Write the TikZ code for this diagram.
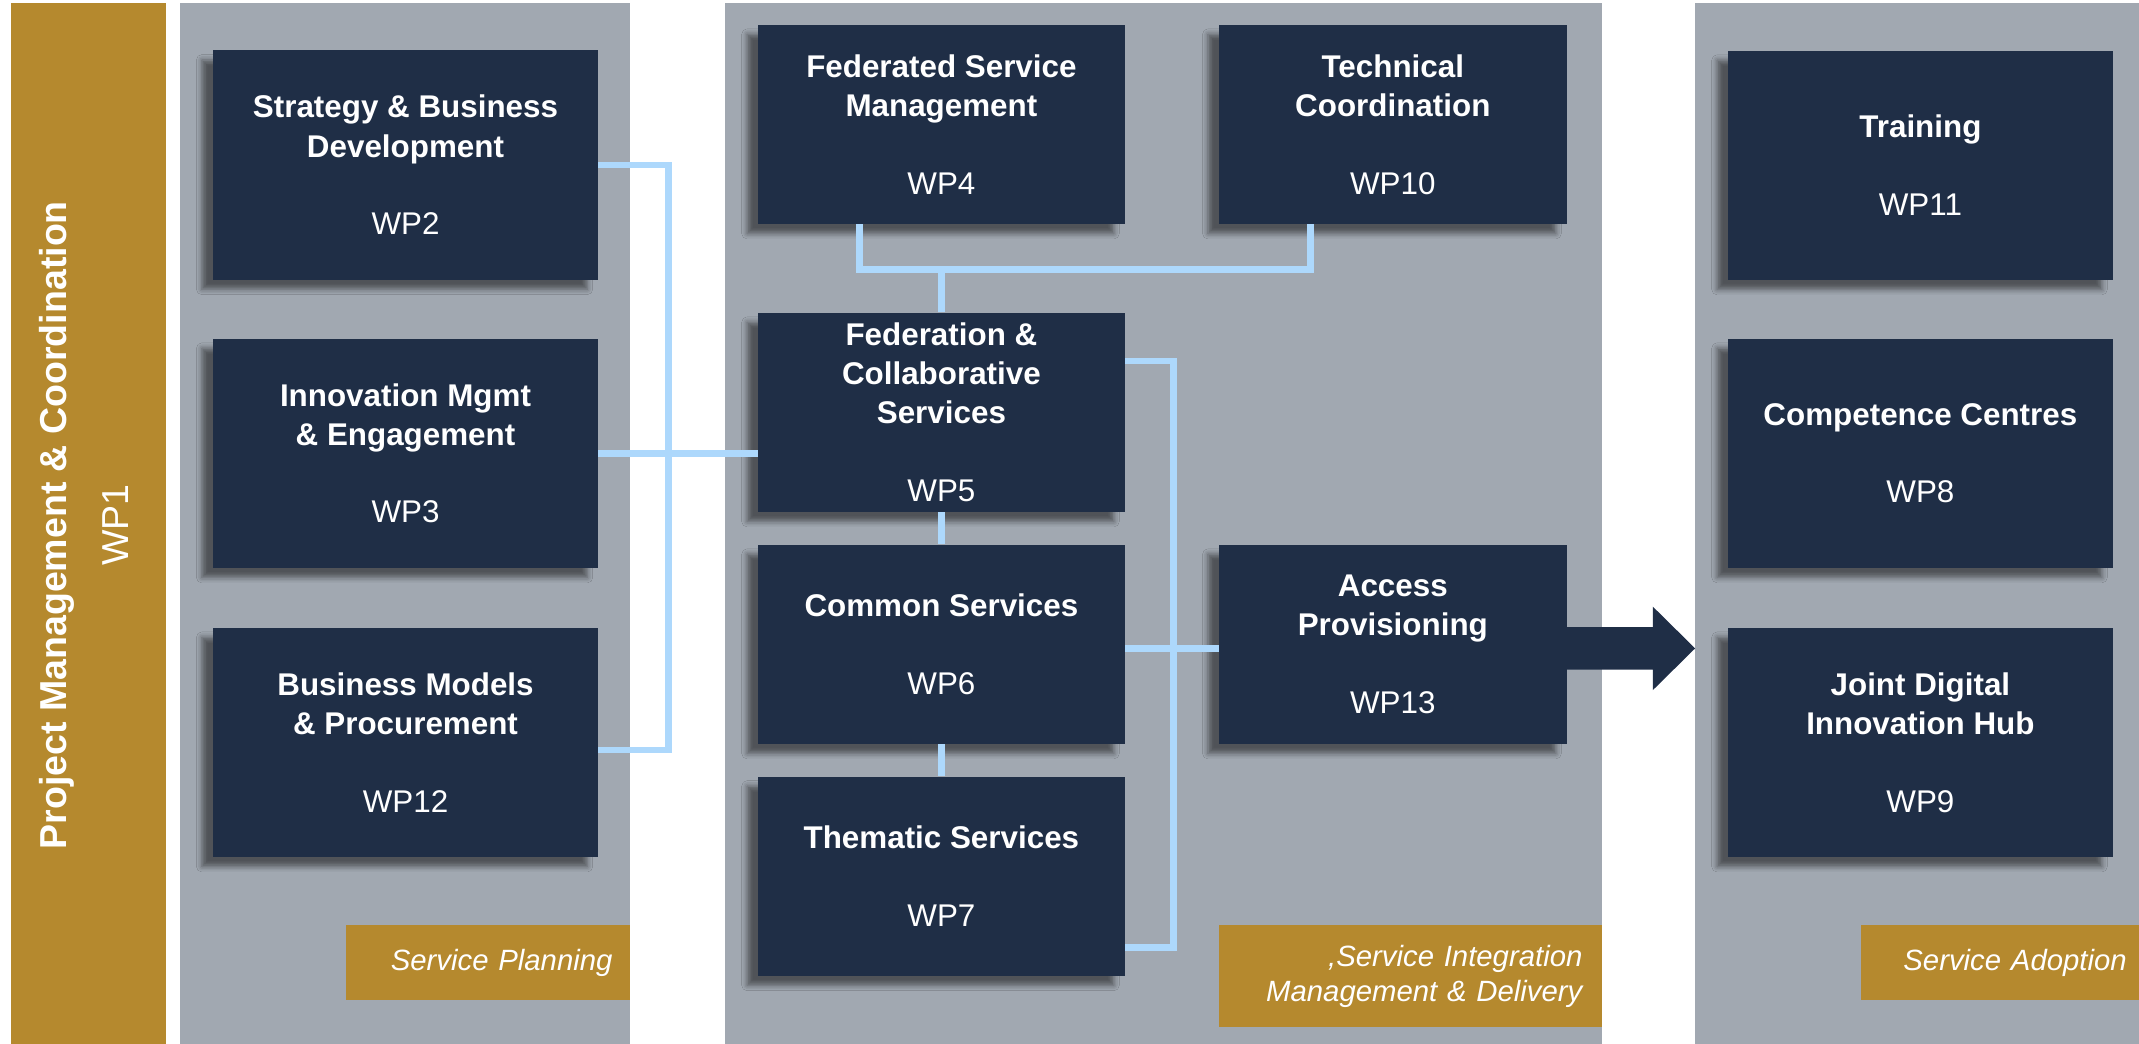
\documentclass[tikz,border=0pt]{standalone}
\usepackage{fontspec}
\setmainfont{Liberation Sans}
\usetikzlibrary{calc,shadows.blur}
\definecolor{panelgray}{RGB}{161,168,177}
\definecolor{boxblue}{RGB}{31,46,70}
\definecolor{goldc}{RGB}{181,137,46}
\definecolor{linkblue}{RGB}{173,216,252}
\tikzset{
  wpbox/.style={fill=boxblue, text=white, align=center, inner sep=0pt,
    font=\fontsize{23}{28.7}\selectfont\bfseries,
    blur shadow={shadow xshift=-8pt, shadow yshift=-7pt, shadow blur radius=4pt, shadow opacity=50}},
  colL/.style={minimum width=282.5pt, minimum height=168pt},
  colR/.style={minimum width=282pt, minimum height=168pt},
  colM/.style={minimum width=268.8pt, minimum height=146pt},
  colN/.style={minimum width=255pt, minimum height=146pt},
  tagbox/.style={fill=goldc, text=white, align=right, inner ysep=0pt,
    font=\fontsize{21.5}{25.5}\selectfont\itshape},
  conn/.style={draw=linkblue, line width=5pt, line join=miter}
}
\begin{document}
\begin{tikzpicture}[x=1pt,y=-1pt]
\useasboundingbox (0,0) rectangle (1568,765);
\fill[white] (0,0) rectangle (1568,765);
% panels
\fill[goldc] (8,2) rectangle (122,765);
\fill[panelgray] (132,2) rectangle (462,765);
\fill[panelgray] (531.5,2) rectangle (1174,765);
\fill[panelgray] (1242.6,2) rectangle (1568,765);
% WP1 title
\node[rotate=90, align=center, text=white, inner sep=0pt,
  font=\fontsize{27.5}{45}\selectfont] (wp1) at (61.4,385)
  {\bfseries Project Management \& Coordination\\\mdseries WP1};
% section tags
\node[tagbox, minimum width=208.4pt, minimum height=55pt, inner xsep=13pt, text width=182.4pt] (sp) at (357.8,705.5) {Service Planning};
\node[tagbox, minimum width=280.5pt, minimum height=75pt, inner xsep=14pt, text width=252.5pt] (si) at (1033.75,715.5) {,Service Integration\\Management \& Delivery};
\node[tagbox, minimum width=204pt, minimum height=55pt, inner xsep=9pt, text width=186pt] (sa) at (1466,705.5) {Service Adoption};
% boxes
\node[wpbox, colL] (wp2) at (297.25,121) {Strategy \& Business\\Development\\[28.3pt]\mdseries WP2};
\node[wpbox, colL] (wp3) at (297.25,332.3) {Innovation Mgmt\\\& Engagement\\[28.3pt]\mdseries WP3};
\node[wpbox, colL] (wp12) at (297.25,544.2) {Business Models\\\& Procurement\\[28.3pt]\mdseries WP12};
\node[wpbox, colM] (wp4) at (690.1,91.15) {Federated Service\\Management\\[28.3pt]\mdseries WP4};
\node[wpbox, colN] (wp10) at (1021,91.15) {Technical\\Coordination\\[28.3pt]\mdseries WP10};
\node[wpbox, colM] (wp5) at (690.1,302.25) {Federation \&\\Collaborative\\Services\\[28.3pt]\mdseries WP5};
\node[wpbox, colM] (wp6) at (690.1,472.3) {Common Services\\[28.3pt]\mdseries WP6};
\node[wpbox, colM] (wp7) at (690.1,642.25) {Thematic Services\\[28.3pt]\mdseries WP7};
\node[wpbox, colN] (wp13) at (1021,472.3) {Access\\Provisioning\\[28.3pt]\mdseries WP13};
\node[wpbox, colR] (wp11) at (1407.75,121.15) {Training\\[28.3pt]\mdseries WP11};
\node[wpbox, colR] (wp8) at (1407.75,332.25) {Competence Centres\\[28.3pt]\mdseries WP8};
\node[wpbox, colR] (wp9) at (1407.75,544.2) {Joint Digital\\Innovation Hub\\[28.3pt]\mdseries WP9};
% connectors
\coordinate (lbus) at (490,0);
\coordinate (rbus) at (860,0);
\draw[conn] (wp2.east) -- (wp2.east -| lbus) -- ($(wp12.east -| lbus)+(0,5.6)$) -- ($(wp12.east)+(0,5.6)$);
\draw[conn] (wp3.east) -- (wp3.east -| wp5.west);
\draw[conn] ([xshift=-60pt]wp4.south) -- ++(0,33.2) -| ([xshift=-60.6pt]wp10.south);
\draw[conn] (wp5.north) -- ++(0,-32.2);
\draw[conn] (wp5.south) -- (wp6.north);
\draw[conn] (wp6.south) -- (wp7.north);
\draw[conn] ($(wp5.east)+(0,-37.6)$) -- ($(wp5.east -| rbus)+(0,-37.6)$) -- ($(wp7.east -| rbus)+(0,52.5)$) -- ($(wp7.east)+(0,52.5)$);
\draw[conn] ($(wp6.east)+(0,3)$) -- ($(wp13.west)+(0,3)$);
% block arrow
\coordinate (atip) at (1242.6,475.3);
\fill[boxblue] ($(wp13.east |- atip)+(-2,-15.6)$) -- ($(atip)+(-31,-15.6)$) -- ($(atip)+(-31,-30.6)$) -- (atip) -- ($(atip)+(-31,30.6)$) -- ($(atip)+(-31,15.6)$) -- ($(wp13.east |- atip)+(-2,15.6)$) -- cycle;
\end{tikzpicture}
\end{document}
